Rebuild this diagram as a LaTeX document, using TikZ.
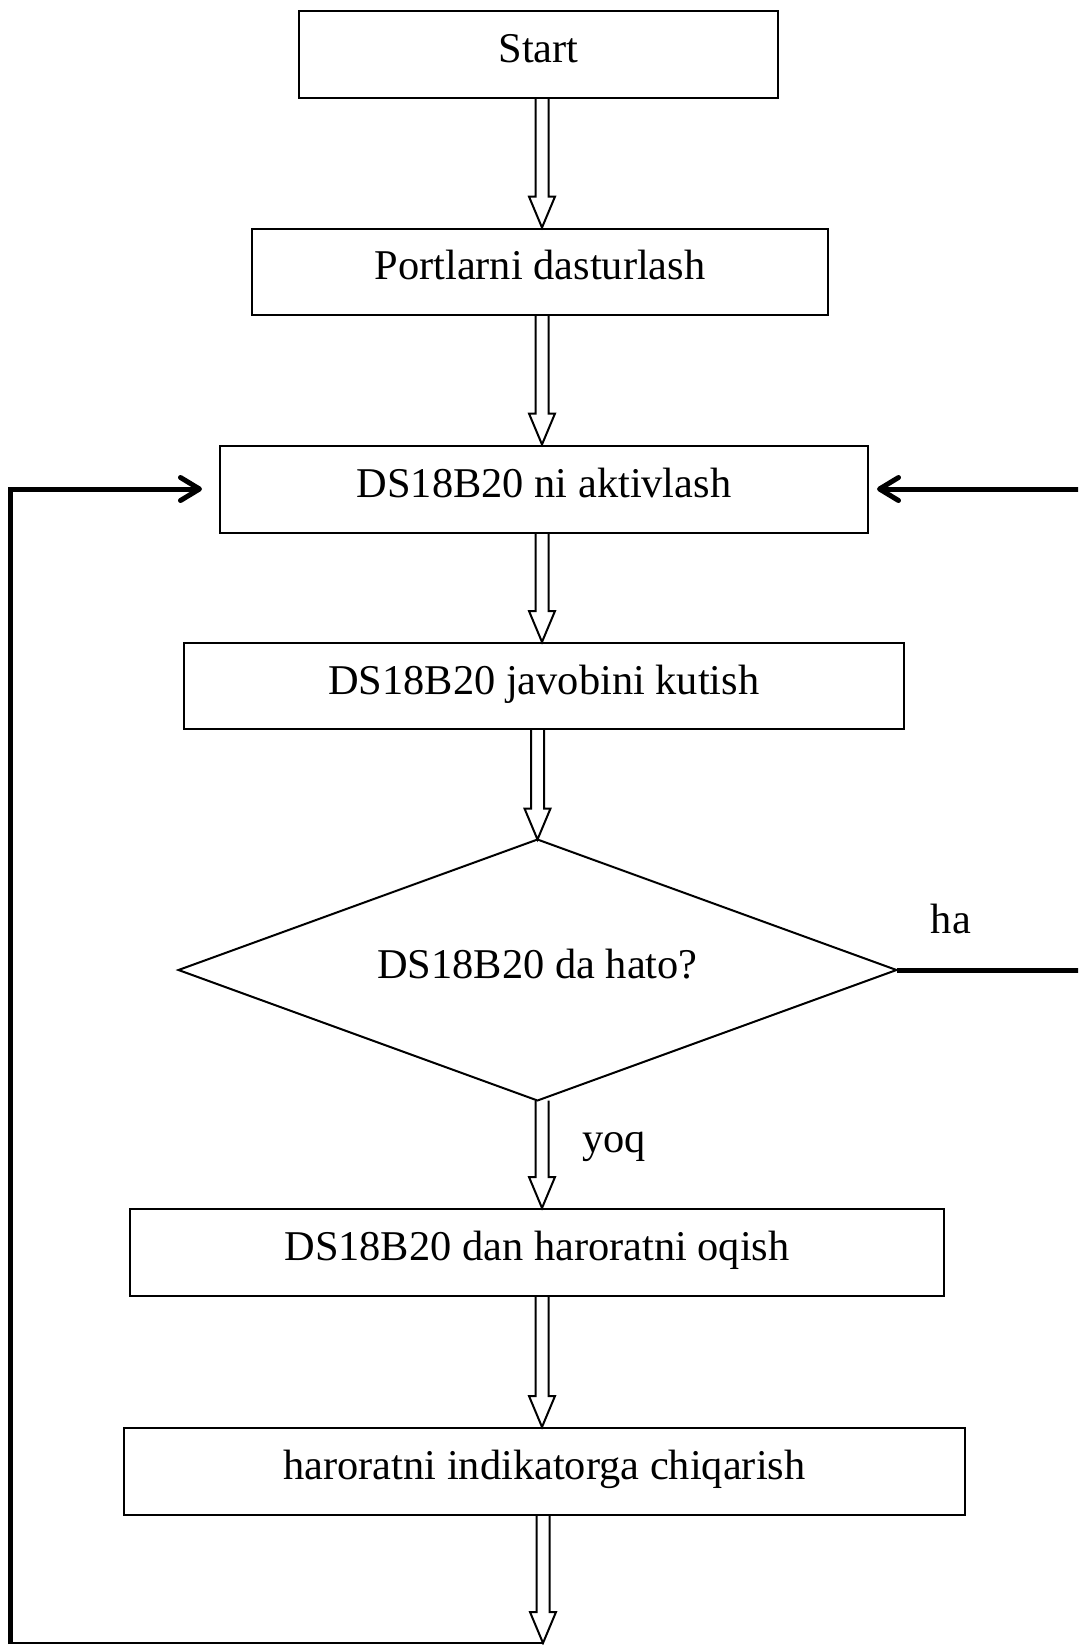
\documentclass[tikz,border=0pt]{standalone}
\usepackage{fontspec}
\setmainfont{Liberation Serif}
\usetikzlibrary{calc,arrows.meta}
\tikzset{
  box/.style={draw, line width=1pt, inner sep=0pt, text height=15pt, text depth=7pt, font=\fontsize{21.2}{25}\selectfont},
  diabox/.style={inner sep=0pt, outer sep=0pt, text height=15pt, text depth=7pt, font=\fontsize{21.2}{25}\selectfont},
  dialine/.style={line width=1pt, line join=miter},
  lbl/.style={inner sep=0pt, font=\fontsize{21.2}{25}\selectfont},
  hollowline/.style={draw, line width=1pt, line join=miter},
  loopline/.style={line width=2.5pt, line join=miter},
  looptip/.style={-{Straight Barb[length=9.5pt,width=11.5pt,line cap=round,line join=round]}},
}
\newcommand\harr[2]{%
  \path (#1) coordinate (hA) (#2) coordinate (hB);
  \draw[hollowline] ($(hA)+(-6.5,0)$) -- ($(hB)+(-6.5,-31)$) -- ($(hB)+(-13,-31)$) -- (hB)
     -- ($(hB)+(13,-31)$) -- ($(hB)+(6.5,-31)$) -- ($(hA)+(6.5,0)$);}
\begin{document}
\begin{tikzpicture}[x=0.5pt,y=-0.5pt]
\useasboundingbox (0,0) rectangle (1078,1645);
\clip (0,0) rectangle (1078,1645);
\coordinate (ax) at (542,0);
\coordinate (rx) at (1095,0);
\node[box, minimum width=239.5pt, minimum height=43.5pt] (start) at (538.5,54) {Start};
\node[box, minimum width=288pt, minimum height=43pt] (port) at (540,271.6) {Portlarni dasturlash};
\node[box, minimum width=324pt, minimum height=43.5pt] (akt) at (544,489) {DS18B20 ni aktivlash};
\node[box, minimum width=360.25pt, minimum height=43pt] (jav) at (543.75,686) {DS18B20 javobini kutish};
\node[diabox, minimum width=359pt, minimum height=130.5pt] (dec) at (537.5,970) {DS18B20 da hato?};
\draw[dialine] (dec.north) -- (dec.east) -- (dec.south) -- (dec.west) -- cycle;
\node[box, minimum width=407pt, minimum height=43.5pt] (oq) at (537,1252.5) {DS18B20 dan haroratni oqish};
\node[box, minimum width=420.5pt, minimum height=43.5pt] (ind) at (544.5,1471.5) {haroratni indikatorga chiqarish};
\node[lbl] (ha) at (951,918.5) {ha};
\node[lbl] (yoq) at (614,1147) {yoq};
\coordinate (bot) at (543,1643);
\coordinate (botL) at (10,1643);
\harr{start.south -| ax}{port.north -| ax}
\harr{port.south -| ax}{akt.north -| ax}
\harr{akt.south -| ax}{jav.north -| ax}
\harr{jav.south -| dec.north}{dec.north}
\harr{dec.south -| ax}{oq.north -| ax}
\harr{oq.south -| ax}{ind.north -| ax}
\harr{ind.south -| bot}{bot}
\draw[line width=1pt] (bot) -- (botL);
\draw[loopline, looptip, shorten >=8.5pt] ($(botL)+(0,1)$) |- (akt.west);
\draw[loopline, looptip, shorten >=4pt] (dec.east) -- (rx |- dec.east) |- (akt.east);
\end{tikzpicture}
\end{document}
